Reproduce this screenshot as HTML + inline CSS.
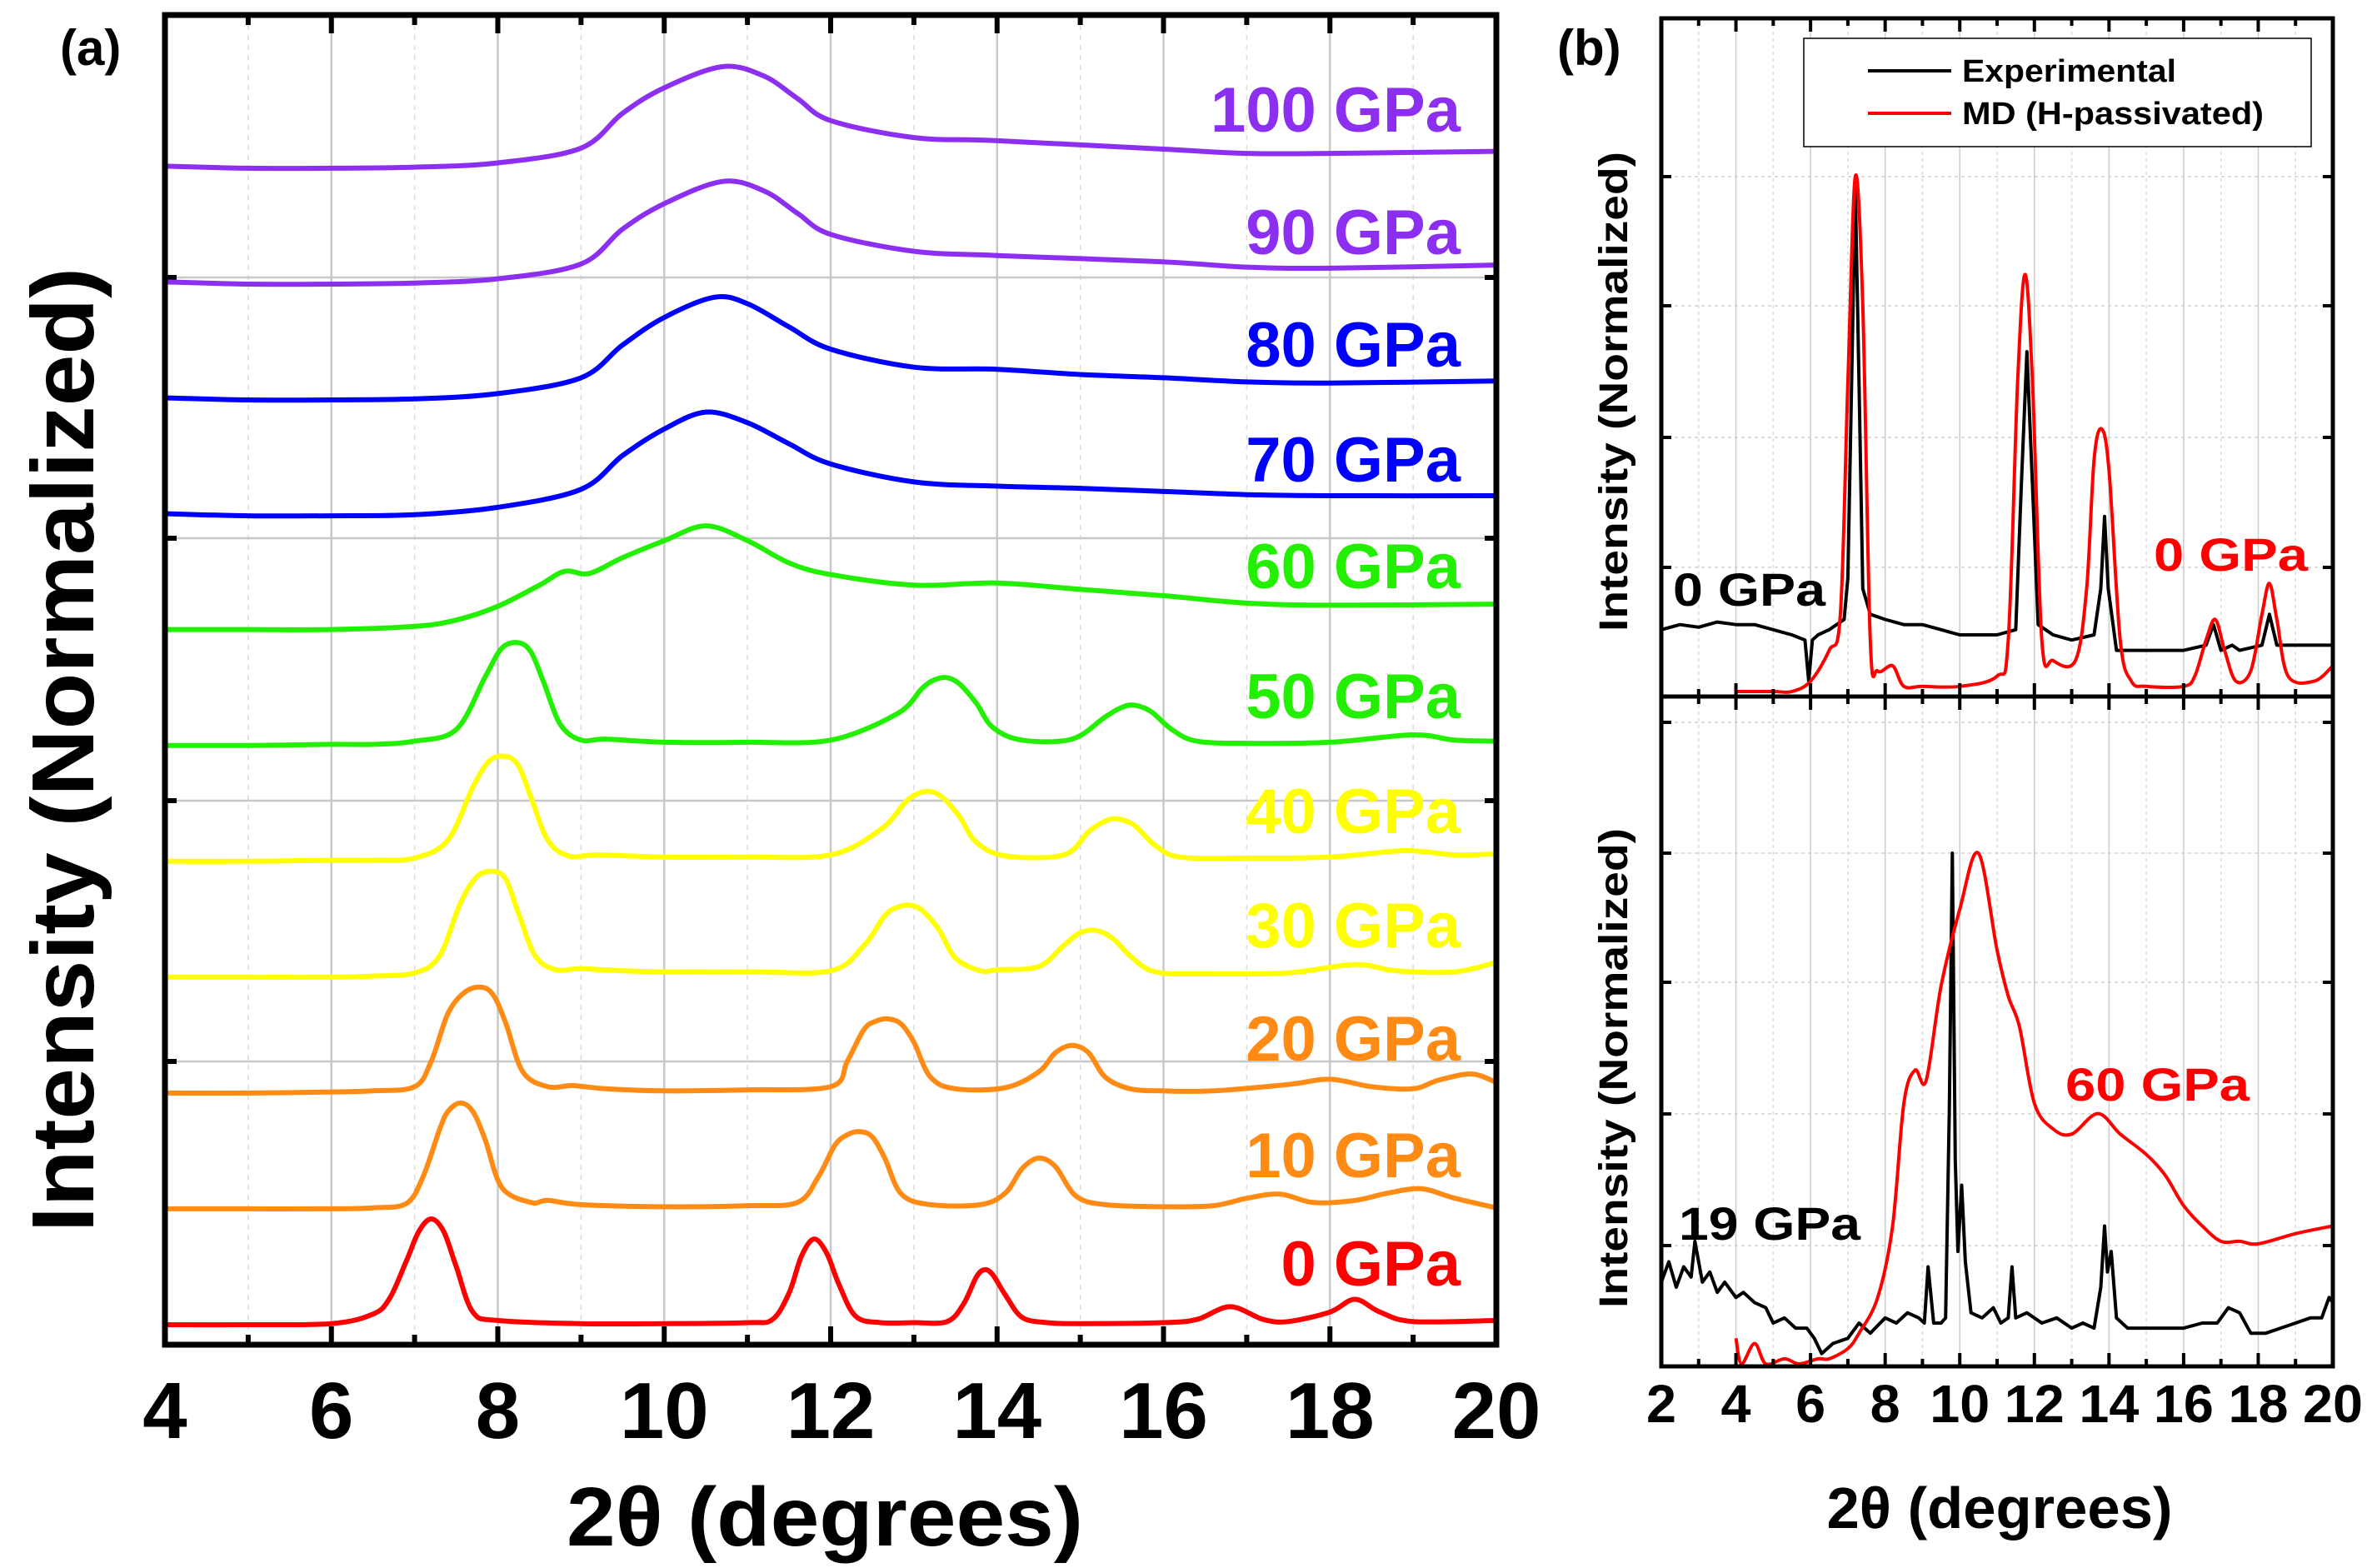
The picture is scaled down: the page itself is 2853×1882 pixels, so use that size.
<!DOCTYPE html>
<html><head><meta charset="utf-8"><style>
html,body{margin:0;padding:0;background:#fff;}
svg{display:block;}
text{font-family:"Liberation Sans",Arial,sans-serif;font-weight:bold;}
</style></head><body>
<svg id="fig" width="2853" height="1882" viewBox="0 0 2853 1882" xmlns="http://www.w3.org/2000/svg">
<rect width="2853" height="1882" fill="#fff"/>
<g id="pa"></g>
<g id="pb"></g>
</svg>
<script>
// ---------- Panel (a) data ----------
const aPressures = ["0 GPa","10 GPa","20 GPa","30 GPa","40 GPa","50 GPa","60 GPa","70 GPa","80 GPa","90 GPa","100 GPa"];
const aColors = ["#ff0000","#ff8a14","#ff8a14","#ffff00","#ffff00","#22f000","#22f000","#0000ff","#0000ff","#8c2ff0","#8c2ff0"];
const aX0 = [4,5,6,6.5,6.7,6.9,7.05,7.2,7.35,7.5,7.7,8,9,10,11,11.3,11.5,11.65,11.8,11.95,12.1,12.3,12.6,13,13.4,13.6,13.75,13.85,13.95,14.1,14.3,14.6,15,16,16.4,16.8,17.2,17.5,18,18.3,18.6,19,20];
const aY0 = [0,0,0.01,0.1,0.25,0.6,0.88,1.0,0.88,0.55,0.12,0.04,0.01,0.01,0.02,0.05,0.3,0.65,0.81,0.68,0.38,0.08,0.02,0.02,0.03,0.2,0.45,0.52,0.47,0.28,0.07,0.02,0.01,0.02,0.05,0.17,0.05,0.03,0.12,0.24,0.12,0.03,0.04];
const aX10 = [4,5,6,6.5,6.9,7.1,7.3,7.4,7.55,7.7,7.85,8.05,8.4,8.6,9,10,11,11.6,11.85,12.05,12.2,12.35,12.5,12.65,12.85,13.2,13.8,14.1,14.3,14.5,14.7,14.95,15.3,16,16.6,17,17.4,17.8,18.3,18.7,19.1,19.5,20];
const aY10 = [0,0,0,0.01,0.05,0.3,0.75,0.92,1.0,0.92,0.65,0.2,0.06,0.08,0.04,0.02,0.03,0.06,0.3,0.6,0.7,0.73,0.68,0.48,0.14,0.04,0.04,0.15,0.38,0.48,0.4,0.12,0.04,0.02,0.03,0.1,0.14,0.06,0.08,0.15,0.19,0.1,0.01];
const aX20 = [4,5,6,6.5,7,7.2,7.4,7.6,7.8,7.95,8.1,8.3,8.6,8.9,9.3,10,11,12,12.2,12.4,12.55,12.7,12.85,13,13.2,13.5,14.1,14.5,14.7,14.9,15.1,15.3,15.6,16,16.6,17.5,18,18.5,19,19.3,19.7,20];
const aY20 = [0,0,0.01,0.02,0.06,0.3,0.75,0.95,1.0,0.92,0.65,0.2,0.06,0.07,0.04,0.02,0.03,0.06,0.3,0.6,0.68,0.7,0.65,0.48,0.15,0.04,0.05,0.2,0.38,0.45,0.38,0.15,0.04,0.02,0.02,0.08,0.13,0.06,0.04,0.12,0.18,0.1];
const aX30 = [4,5,6,6.5,7,7.3,7.55,7.75,7.95,8.1,8.25,8.45,8.7,9,9.5,10,11,12,12.4,12.65,12.8,12.95,13.1,13.3,13.5,13.8,14,14.5,14.8,15,15.2,15.4,15.6,15.9,16.5,17.5,18.3,18.8,19.5,20];
const aY30 = [0,0,0,0.01,0.04,0.2,0.7,0.95,1.0,0.92,0.6,0.2,0.07,0.08,0.06,0.05,0.05,0.06,0.3,0.58,0.66,0.68,0.63,0.45,0.18,0.06,0.07,0.1,0.3,0.42,0.44,0.36,0.2,0.05,0.03,0.04,0.12,0.06,0.05,0.14];
const aX40 = [4,5,6,6.5,7,7.4,7.7,7.9,8.1,8.25,8.4,8.6,8.85,9.2,10,11,12,12.6,12.9,13.05,13.2,13.35,13.55,13.75,14.1,14.8,15.1,15.3,15.45,15.65,15.9,16.2,17,18,18.9,19.5,20];
const aY40 = [0,0,0.01,0.01,0.03,0.2,0.7,0.95,0.99,0.9,0.6,0.2,0.05,0.06,0.04,0.04,0.06,0.3,0.56,0.64,0.66,0.6,0.42,0.18,0.05,0.06,0.28,0.38,0.4,0.34,0.15,0.04,0.03,0.04,0.1,0.06,0.07];
const aX50 = [4,5,6,6.5,7,7.5,7.85,8.05,8.25,8.4,8.55,8.75,9,9.3,10,11,12,12.8,13.1,13.25,13.4,13.55,13.75,13.95,14.3,14.9,15.3,15.5,15.65,15.85,16.1,16.4,17,18,19,19.5,20];
const aY50 = [0,0,0.01,0.01,0.04,0.15,0.65,0.92,0.97,0.88,0.6,0.2,0.05,0.06,0.03,0.03,0.05,0.3,0.54,0.62,0.64,0.58,0.4,0.17,0.05,0.06,0.27,0.36,0.38,0.32,0.15,0.04,0.02,0.03,0.1,0.05,0.04];
const aX60 = [4,5,6,7,7.5,8,8.5,8.8,9.1,9.5,10,10.5,11,11.5,12,13,14,15,16,17,18,20];
const aY60 = [0,0,0,0.03,0.09,0.22,0.42,0.55,0.53,0.68,0.84,0.98,0.84,0.63,0.52,0.42,0.44,0.38,0.32,0.25,0.23,0.24];
const aX70 = [4,5,6,7,8,9,9.5,10,10.5,11,11.5,12,13,14,15,16,17,18,20];
const aY70 = [0,-0.02,-0.02,-0.01,0.06,0.23,0.55,0.8,0.96,0.86,0.66,0.47,0.3,0.26,0.24,0.21,0.18,0.17,0.17];
const aX80 = [4,5,6,7,8,9,9.5,10,10.6,11,11.5,12,13,14,15,16,17,18,20];
const aY80 = [0,-0.02,-0.02,-0.01,0.04,0.19,0.5,0.76,0.95,0.89,0.67,0.46,0.29,0.27,0.22,0.19,0.15,0.14,0.16];
const aX90 = [4,5,6,7,8,9,9.5,10,10.7,11.2,11.6,12,13,14,16,17,18,20];
const aY90 = [0,-0.02,-0.02,-0.01,0.03,0.17,0.5,0.74,0.95,0.86,0.65,0.45,0.29,0.25,0.19,0.14,0.13,0.16];
const aX100 = [4,5,6,7,8,9,9.5,10,10.7,11.2,11.6,12,13,14,16,17,18,20];
const aY100 = [0,-0.02,-0.02,-0.01,0.03,0.17,0.5,0.74,0.94,0.85,0.64,0.43,0.27,0.24,0.16,0.12,0.12,0.14];
const aXs=[aX0,aX10,aX20,aX30,aX40,aX50,aX60,aX70,aX80,aX90,aX100];
const aYs=[aY0,aY10,aY20,aY30,aY40,aY50,aY60,aY70,aY80,aY90,aY100];
const aXTicks = [4,6,8,10,12,14,16,18,20];
const aOffsetStep = 1.095;

// ---------- Panel (b) data ----------
const bTicks = [2,4,6,8,10,12,14,16,18,20];
const bExpTopX = [2,2.5,3,3.5,4,4.5,5,5.5,5.85,5.95,6.05,6.2,6.5,6.9,7.0,7.1,7.2,7.3,7.4,7.6,8,8.5,9,9.5,10,10.5,11,11.5,11.65,11.8,11.95,12.1,12.5,13,13.6,13.78,13.88,13.98,14.2,15,16,16.6,16.8,17,17.3,17.5,18.1,18.3,18.5,19,19.5,20];
const bExpTopY = [0.12,0.13,0.125,0.135,0.13,0.13,0.12,0.11,0.1,0.02,0.1,0.11,0.12,0.14,0.22,0.6,0.98,0.6,0.2,0.15,0.14,0.13,0.13,0.12,0.11,0.11,0.11,0.12,0.4,0.66,0.4,0.13,0.11,0.1,0.11,0.2,0.34,0.2,0.08,0.08,0.08,0.09,0.13,0.08,0.09,0.08,0.09,0.15,0.09,0.09,0.09,0.09];
const bMdTopX = [4,5,5.5,6,6.5,6.8,7.0,7.2,7.4,7.6,7.8,8.2,8.5,9,10,11,11.3,11.55,11.75,11.95,12.2,12.5,13.1,13.4,13.6,13.8,14.0,14.3,14.6,15,16,16.3,16.6,16.85,17.1,17.4,17.8,18.1,18.3,18.5,18.8,19.5,20];
const bMdTopY = [0,0,0,0.02,0.08,0.15,0.6,1.0,0.75,0.1,0.04,0.05,0.01,0.01,0.01,0.03,0.1,0.6,0.81,0.6,0.1,0.06,0.06,0.2,0.45,0.51,0.43,0.1,0.02,0.01,0.01,0.03,0.1,0.14,0.08,0.02,0.04,0.15,0.21,0.14,0.03,0.02,0.05];
const bExpBotX = [2,2.2,2.4,2.6,2.8,2.9,3.1,3.3,3.5,3.7,4,4.2,4.5,4.8,5,5.3,5.6,5.9,6.1,6.3,6.6,7,7.3,7.6,8,8.3,8.6,8.9,9.05,9.15,9.3,9.5,9.62,9.72,9.8,9.88,9.95,10.05,10.15,10.3,10.6,10.9,11.1,11.3,11.4,11.5,11.8,12.2,12.6,13,13.3,13.6,13.78,13.88,13.96,14.06,14.2,14.5,15,15.5,16,16.5,16.9,17.2,17.5,17.8,18.2,18.6,19,19.4,19.7,19.9,20];
const bExpBotY = [0.16,0.2,0.15,0.19,0.17,0.24,0.16,0.18,0.14,0.16,0.13,0.14,0.12,0.11,0.08,0.09,0.07,0.07,0.05,0.02,0.04,0.05,0.08,0.06,0.09,0.08,0.1,0.09,0.08,0.19,0.08,0.08,0.09,0.5,1.0,0.4,0.22,0.35,0.2,0.1,0.09,0.11,0.08,0.09,0.19,0.09,0.1,0.08,0.09,0.07,0.08,0.07,0.15,0.27,0.18,0.22,0.09,0.07,0.07,0.07,0.07,0.08,0.08,0.11,0.1,0.06,0.06,0.07,0.08,0.09,0.09,0.13,0.12];
const bMdBotX = [4,4.15,4.5,4.8,5.3,5.7,6.2,6.5,7,7.3,7.8,8.2,8.5,8.8,9.1,9.5,10,10.5,11,11.3,11.6,12,12.5,13,13.7,14.3,15,15.5,16,16.5,17,17.5,18,19,20];
const bMdBotY = [0.05,0,0.04,0,0.01,0,0.01,0.01,0.03,0.06,0.13,0.27,0.51,0.575,0.555,0.74,0.89,1.0,0.81,0.72,0.66,0.51,0.46,0.45,0.49,0.45,0.41,0.37,0.31,0.27,0.24,0.24,0.235,0.255,0.27];

// ---------- helpers ----------
const NS="http://www.w3.org/2000/svg";
function mk(parent,tag,attrs,txt){const e=document.createElementNS(NS,tag);for(const k in attrs)e.setAttribute(k,attrs[k]);if(txt!==undefined)e.textContent=txt;parent.appendChild(e);return e;}
function smoothPath(pts){let d="M"+pts[0][0].toFixed(1)+","+pts[0][1].toFixed(1);
 for(let i=0;i<pts.length-1;i++){const p0=pts[i-1]||pts[i],p1=pts[i],p2=pts[i+1],p3=pts[i+2]||p2;
  const c1x=p1[0]+(p2[0]-p0[0])/6,c1y=p1[1]+(p2[1]-p0[1])/6,c2x=p2[0]-(p3[0]-p1[0])/6,c2y=p2[1]-(p3[1]-p1[1])/6;
  d+=" C"+c1x.toFixed(1)+","+c1y.toFixed(1)+" "+c2x.toFixed(1)+","+c2y.toFixed(1)+" "+p2[0].toFixed(1)+","+p2[1].toFixed(1);}
 return d;}
function linePath(pts){return pts.map((p,i)=>(i?"L":"M")+p[0].toFixed(1)+","+p[1].toFixed(1)).join(" ");}

// ---------- Panel (a) ----------
(function(){
const g=document.getElementById('pa');
const L=198,R=1796,T=18,B=1614,base0=1590,unit=127;
const xs=v=>L+(v-4)/16*(R-L);
const ys=(v,i)=>base0-(v+i*aOffsetStep)*unit;
for(let d=5;d<20;d++){
 const ln=mk(g,'line',{x1:xs(d),x2:xs(d),y1:T,y2:B,stroke:d%2?'#dcdcdc':'#c8c8c8','stroke-width':d%2?1.5:2.5,'stroke-dasharray':d%2?'6,6':'none'});
 
 
}
[333,646,961,1274].forEach(y=>{
 const ln=mk(g,'line',{x1:L,x2:R,y1:y,y2:y,stroke:'#c8c8c8','stroke-width':2.5});
 
 
 [[L,L+14],[R-14,R]].forEach(s=>{const t=mk(g,'line',{x1:s[0],x2:s[1],y1:y,y2:y,stroke:'#000','stroke-width':6});
 
 });
});
for(let i=0;i<aXs.length;i++){
 const pts=aXs[i].map((x,k)=>[xs(x),ys(aYs[i][k],i)]);
 const p=mk(g,'path',{d:smoothPath(pts),fill:'none',stroke:aColors[i],'stroke-width':6,'stroke-linejoin':'round'});
 
 
}
const labY=[1543,1413,1273,1137,1000,862,706,578,440,305,158];
for(let i=0;i<aPressures.length;i++){
 const t=mk(g,'text',{x:1753,y:labY[i],'font-size':76,fill:aColors[i],'text-anchor':'end'},aPressures[i]);
 
 
}
for(let d=4;d<=20;d++){const len=d%2?12:22;
 [[B,B-len],[T,T+len]].forEach(s=>{const t=mk(g,'line',{x1:xs(d),x2:xs(d),y1:s[0],y2:s[1],stroke:'#000','stroke-width':6});
 
 });}
const fr=mk(g,'rect',{x:L,y:T,width:R-L,height:B-T,fill:'none',stroke:'#000','stroke-width':7});


aXTicks.forEach(v=>{const t=mk(g,'text',{x:xs(v),y:1726,'font-size':96,'text-anchor':'middle'},String(v));
 
 });
const xt=mk(g,'text',{x:990,y:1855,'font-size':100,'text-anchor':'middle',textLength:620,lengthAdjust:'spacingAndGlyphs'},'2θ (degrees)');


const yt=mk(g,'text',{x:0,y:0,'font-size':106,'text-anchor':'middle',textLength:1158,lengthAdjust:'spacingAndGlyphs',transform:'translate(112,900) rotate(-90)'},'Intensity (Normalized)');


const pl=mk(g,'text',{x:72,y:78,'font-size':60},'(a)');


})();

// ---------- Panel (b) ----------
(function(){
const g=document.getElementById('pb');
const L=1994,R=2800,T=22,M=836,B=1640;
const xs=v=>L+(v-2)/18*(R-L);
const yTop=v=>M-6-v*(M-6-212);
const yBot=v=>B-3-v*(B-3-1024);
for(let d=3;d<20;d++){
 const ln=mk(g,'line',{x1:xs(d),x2:xs(d),y1:T,y2:B,stroke:d%2?'#dddddd':'#cccccc','stroke-width':1.5,'stroke-dasharray':d%2?'4,4':'none'});
 
 
}
[212,367,525,681,867,1024,1179,1337,1495].forEach(y=>{
 const ln=mk(g,'line',{x1:L,x2:R,y1:y,y2:y,stroke:'#d0d0d0','stroke-width':1.5,'stroke-dasharray':'4,4'});
 
 
 [[L,L+12],[R-12,R]].forEach(s=>{const t=mk(g,'line',{x1:s[0],x2:s[1],y1:y,y2:y,stroke:'#000','stroke-width':4});
 
 });
});
const lb=mk(g,'rect',{x:2165,y:46,width:609,height:130,fill:'#fff',stroke:'#000','stroke-width':1.5});


const l1=mk(g,'line',{x1:2242,x2:2342,y1:85,y2:85,stroke:'#000','stroke-width':4});


const l2=mk(g,'line',{x1:2242,x2:2342,y1:136,y2:136,stroke:'#ff0000','stroke-width':4});


const t1=mk(g,'text',{x:2355,y:98,'font-size':38,textLength:257,lengthAdjust:'spacingAndGlyphs'},'Experimental');


const t2=mk(g,'text',{x:2355,y:149,'font-size':38,textLength:362,lengthAdjust:'spacingAndGlyphs'},'MD (H-passivated)');


const c1=mk(g,'path',{d:linePath(bExpTopX.map((x,k)=>[xs(x),yTop(bExpTopY[k])])),fill:'none',stroke:'#000','stroke-width':4,'stroke-linejoin':'round'});


const c2=mk(g,'path',{d:smoothPath(bMdTopX.map((x,k)=>[xs(x),yTop(bMdTopY[k])])),fill:'none',stroke:'#ff0000','stroke-width':4,'stroke-linejoin':'round'});


const c3=mk(g,'path',{d:linePath(bExpBotX.map((x,k)=>[xs(x),yBot(bExpBotY[k])])),fill:'none',stroke:'#000','stroke-width':4,'stroke-linejoin':'round'});


const c4=mk(g,'path',{d:smoothPath(bMdBotX.map((x,k)=>[xs(x),yBot(bMdBotY[k])])),fill:'none',stroke:'#ff0000','stroke-width':4,'stroke-linejoin':'round'});


for(let d=2;d<=20;d++){const len=d%2?9:16;
 [[B,B-len],[M,M-len],[M,M+len],[T,T+len]].forEach(s=>{const t=mk(g,'line',{x1:xs(d),x2:xs(d),y1:s[0],y2:s[1],stroke:'#000','stroke-width':4});
 
 });}
const f1=mk(g,'rect',{x:L,y:T,width:R-L,height:M-T,fill:'none',stroke:'#000','stroke-width':5});


const f2=mk(g,'rect',{x:L,y:M,width:R-L,height:B-M,fill:'none',stroke:'#000','stroke-width':5});


const anns=[['0 GPa',2008,727,183,'#000','label-exp-0gpa'],['0 GPa',2585,685,185,'#ff0000','label-md-0gpa'],['60 GPa',2479,1321,221,'#ff0000','label-md-60gpa'],['19 GPa',2015,1488,218,'#000','label-exp-19gpa']];
anns.forEach(a=>{const t=mk(g,'text',{x:a[1],y:a[2],'font-size':56,fill:a[4],textLength:a[3],lengthAdjust:'spacingAndGlyphs'},a[0]);
 
 });
bTicks.forEach(v=>{const t=mk(g,'text',{x:xs(v),y:1707,'font-size':64,'text-anchor':'middle',textLength:v<10?36:72,lengthAdjust:'spacingAndGlyphs'},String(v));
 
 });
const xt=mk(g,'text',{x:2400,y:1834,'font-size':70,'text-anchor':'middle',textLength:415,lengthAdjust:'spacingAndGlyphs'},'2θ (degrees)');


[[470,'y-axis-title-top'],[1282,'y-axis-title-bottom']].forEach(a=>{
 const t=mk(g,'text',{x:0,y:0,'font-size':48,'text-anchor':'middle',textLength:576,lengthAdjust:'spacingAndGlyphs',transform:'translate(1953,'+a[0]+') rotate(-90)'},'Intensity (Normalized)');
 
 });
const pl=mk(g,'text',{x:1869,y:78,'font-size':60},'(b)');


})();
</script>
</body></html>
